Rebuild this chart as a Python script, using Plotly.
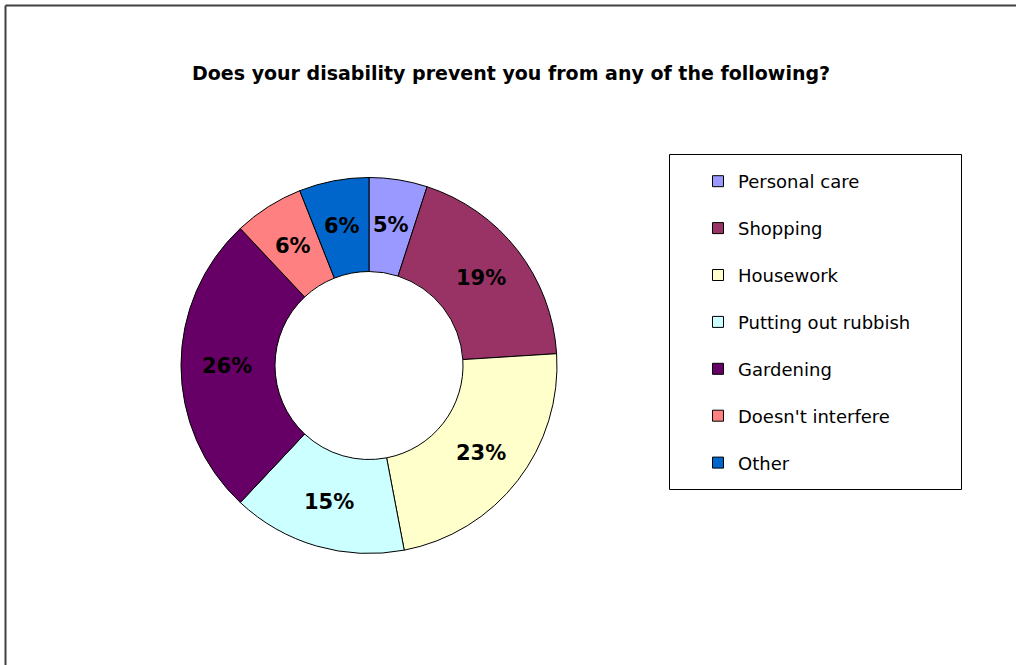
import math
import plotly.graph_objects as go

# Survey answers and their shares (percent)
categories = ["Personal care", "Shopping", "Housework", "Putting out rubbish",
              "Gardening", "Doesn't interfere", "Other"]
shares = [5, 19, 23, 15, 26, 6, 6]
colors = ["#9999FF", "#993366", "#FFFFCC", "#CCFFFF", "#660066", "#FF8080", "#0066CC"]

title_text = "Does your disability prevent you from any of the following?"

W, H = 1016, 665
FONT = "DejaVu Sans"

fig = go.Figure()

# Donut chart, starting at 12 o'clock and running clockwise
cx, cy, r = 369, 365.5, 188
hole = 0.5
fig.add_trace(go.Pie(
    labels=categories,
    values=shares,
    hole=hole,
    sort=False,
    direction="clockwise",
    rotation=0,
    marker=dict(colors=colors, line=dict(color="#000000", width=1)),
    textinfo="none",
    domain=dict(x=[(cx - r) / W, (cx + r) / W],
                y=[(H - cy - r) / H, (H - cy + r) / H]),
    showlegend=False,
    hoverinfo="label+percent",
))

# Percentage labels sit in the middle of the ring, at each slice's mid angle
total = sum(shares)
mid_r = r * (1 + hole) / 2 + 1
labels = []
acc = 0
for v in shares:
    ang = 2 * math.pi * (acc + v / 2) / total
    acc += v
    px = cx + mid_r * math.sin(ang)
    py = cy - mid_r * math.cos(ang)
    labels.append(dict(
        text="<b>%d%%</b>" % round(100 * v / total),
        x=px / W, y=1 - py / H, xref="paper", yref="paper",
        xanchor="center", yanchor="middle", showarrow=False,
        font=dict(family=FONT, size=21, color="#000000"),
    ))

# Legend entries, one group per category so the rows can be spaced out
for name, col in zip(categories, colors):
    fig.add_trace(go.Scatter(
        x=[None], y=[None], mode="markers", name=name, legendgroup=name,
        marker=dict(symbol="square", size=11, color=col,
                    line=dict(color="#000000", width=1)),
        showlegend=True, hoverinfo="skip",
    ))

fig.update_layout(
    width=W, height=H,
    margin=dict(l=0, r=0, t=0, b=0),
    paper_bgcolor="#FFFFFF",
    plot_bgcolor="rgba(0,0,0,0)",
    xaxis=dict(visible=False, domain=[0.2, 0.3]),
    yaxis=dict(visible=False, domain=[0.2, 0.3]),
    showlegend=True,
    legend=dict(
        x=698 / W, y=1 - 163 / H, xanchor="left", yanchor="top",
        traceorder="grouped", tracegroupgap=20.5,
        bgcolor="rgba(0,0,0,0)", borderwidth=0,
        font=dict(family=FONT, size=18, color="#000000"),
    ),
    annotations=[dict(
        text="<b>" + title_text + "</b>",
        x=511 / W, y=1 - 73 / H, xref="paper", yref="paper",
        xanchor="center", yanchor="middle", showarrow=False,
        font=dict(family=FONT, size=19, color="#000000"),
    )] + labels,
    shapes=[
        # chart area frame (top and left edges are inside the view)
        dict(type="line", xref="paper", yref="paper",
             x0=5.5 / W, x1=1.02, y0=1 - 5.5 / H, y1=1 - 5.5 / H,
             line=dict(color="#404040", width=2)),
        dict(type="line", xref="paper", yref="paper",
             x0=5.5 / W, x1=5.5 / W, y0=-0.02, y1=1 - 5.5 / H,
             line=dict(color="#404040", width=2)),
        # legend box
        dict(type="rect", xref="paper", yref="paper",
             x0=669.5 / W, x1=961.5 / W, y0=1 - 489.5 / H, y1=1 - 154.5 / H,
             line=dict(color="#000000", width=1), fillcolor="rgba(0,0,0,0)"),
    ],
)

fig.write_html(
    "out.html",
    config={"displayModeBar": False},
    post_script="document.documentElement.style.overflow='hidden';"
                "document.body.style.margin='0';document.body.style.overflow='hidden';",
)
